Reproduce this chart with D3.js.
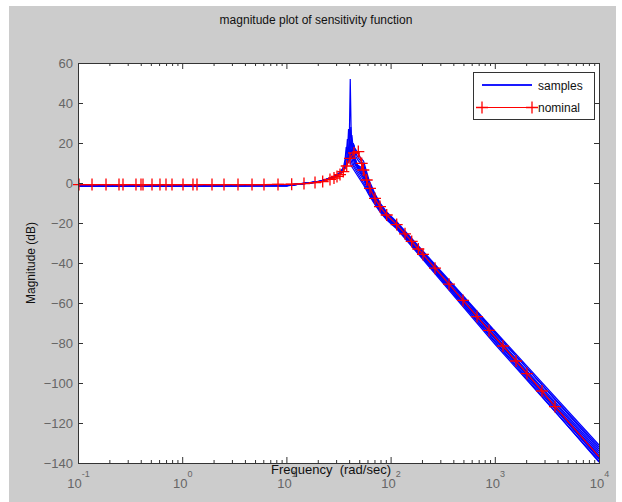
<!DOCTYPE html>
<html>
<head>
<meta charset="utf-8">
<script src="https://cdn.jsdelivr.net/npm/d3@7"></script>
<style>
    body { margin: 0; background: #fff; }
    svg text { font-family: "Liberation Sans", Arial, sans-serif; }
</style>
</head>
<body>
<div id="chart"></div>
<script>
// nominal curve (rad/sec, dB) - one marker per point
const nomFreq = [0.1022, 0.1363, 0.1857, 0.2474, 0.2703, 0.3601, 0.4023, 0.4205, 0.5131, 0.612,
    0.6991, 0.7982, 1.018, 1.269, 1.387, 1.932, 2.519, 3.432, 4.677, 6.095, 8.308, 11.24, 14.75,
    18.82, 22.3, 26.2, 28.63, 30.59, 32.69, 35.17, 37.91, 40.78, 44.55, 48.99, 52.8, 54.7, 58.97,
    63.42, 70.84, 79.13, 91.75, 114.4, 137.5, 159.4, 184.5, 204.6, 266.8, 363.6, 495.6, 675.3,
    879.9, 1198, 1597, 2036, 2836, 3782, 10000];
const nomMag = [-0.8, -0.8, -0.8, -0.8, -0.8, -0.8, -0.8, -0.8, -0.8, -0.8,
    -0.8, -0.8, -0.8, -0.8, -0.8, -0.8, -0.8, -0.8, -0.8, -0.8, -0.7, -0.6, -0.3,
    0.2, 0.7, 1.8, 2.5, 3.3, 4.2, 5.7, 8.5, 12.3, 15, 15.7, 9.8, 6.5, 1.5,
    -2.7, -7.7, -11.8, -16, -20.8, -25.4, -29.2, -33, -35.7, -42.6, -50.6, -58.7, -66.8,
    -73.7, -81.5, -89, -95.3, -104, -111.8, -136.8];

// sampled (perturbed) curves
const sampleFreqs = [
    [0.1, 10, 20.5, 28.7, 32.8, 36.1, 38.5, 40, 41, 42, 43.5, 46, 55, 62, 71, 80, 92, 115, 1000, 10000],
    [0.1, 10, 19.8, 27.7, 31.6, 34.8, 37.1, 38.5, 39.5, 40.5, 41.9, 44.2, 55, 62, 71, 80, 92, 115, 1000, 10000],
    [0.1, 10, 21.3, 29.8, 34, 37.4, 40, 41.4, 42.5, 43.6, 45, 47.6, 55, 62, 71, 80, 92, 115, 1000, 10000],
    [0.1, 10, 22, 30.8, 35.2, 38.7, 41.4, 42.9, 44, 45.1, 46.6, 49.3, 55, 62, 71, 80, 92, 115, 1000, 10000],
    [0.1, 10, 18.8, 26.3, 30, 33, 35.3, 36.6, 37.5, 38.4, 39.8, 42, 55, 62, 71, 80, 92, 115, 1000, 10000],
    [0.1, 10, 23, 32.2, 36.8, 40.5, 43.2, 44.9, 46, 47.2, 48.8, 51.5, 55, 62, 71, 80, 92, 115, 1000, 10000],
    [0.1, 10, 20.8, 29, 33.2, 36.5, 39, 40.5, 41.5, 42.5, 44, 46.5, 55, 62, 71, 80, 92, 115, 1000, 10000],
    [0.1, 10, 21.5, 30.1, 34.4, 37.8, 40.4, 41.9, 43, 44.1, 45.6, 48.2, 55, 62, 71, 80, 92, 115, 1000, 10000],
    [0.1, 10, 19.3, 27, 30.8, 33.9, 36.2, 37.5, 38.5, 39.5, 40.8, 43.1, 55, 62, 71, 80, 92, 115, 1000, 10000],
    [0.1, 10, 20.3, 28.4, 32.4, 35.6, 38.1, 39.5, 40.5, 41.5, 42.9, 45.4, 55, 62, 71, 80, 92, 115, 1000, 10000],
    [0.1, 10, 22.3, 31.2, 35.6, 39.2, 41.8, 43.4, 44.5, 45.6, 47.2, 49.8, 55, 62, 71, 80, 92, 115, 1000, 10000],
    [0.1, 10, 21, 29.4, 33.6, 37, 39.5, 41, 42, 43, 44.5, 47, 55, 62, 71, 80, 92, 115, 1000, 10000]
];
const sampleMags = [
    [-1.5, -1.3, 0.6, 3.0, 5.0, 8, 11, 16, 52, 20, 14, 9.5, 3, -3.5, -9, -13, -17, -21.6, -77.5, -136],
    [-1.5, -1.3, 0.5, 2.8, 4.6, 7, 10, 15, 27, 19, 13.5, 9, 1.5, -4.5, -10, -13.8, -17.6, -22.2, -79, -138],
    [-1.4, -1.2, 0.7, 3.3, 5.5, 9, 12.5, 16, 24, 18, 13, 9, 6, -1.8, -7.9, -12.1, -16.1, -20.8, -76, -134],
    [-1.5, -1.2, 0.8, 3.8, 6.2, 10, 13.5, 16.5, 20, 17, 13, 11, 8.5, -0.3, -6.8, -11.3, -15.4, -20.2, -75, -132],
    [-1.6, -1.4, 0.4, 2.2, 3.8, 5.5, 8, 12, 18, 16, 12.5, 8.5, -1, -6, -11, -14.8, -18.5, -23, -80.5, -139],
    [-1.4, -1.1, 1.0, 4.3, 7.6, 12, 14.8, 16.2, 17, 16, 14.5, 12.5, 11, 1.5, -5.5, -10.3, -14.6, -19.5, -74, -131],
    [-1.5, -1.3, 0.6, 3.1, 5.2, 8.2, 12, 17, 28, 20, 14, 9.3, 4, -2.8, -8.6, -12.7, -16.7, -21.3, -77.5, -137],
    [-1.5, -1.2, 0.7, 3.4, 5.6, 9, 12.5, 14.2, 15, 14.5, 12.5, 9, 7, -1.2, -7.5, -11.8, -15.8, -20.6, -76.5, -135],
    [-1.6, -1.4, 0.5, 2.5, 4.2, 6, 9, 14, 22, 17, 13, 9, 0, -5.3, -10.5, -14.3, -18, -22.6, -79.5, -139.5],
    [-1.5, -1.3, 0.6, 2.9, 4.8, 7.5, 11, 15.5, 23, 18.5, 13.5, 9.2, 2.5, -3.8, -9.3, -13.4, -17.3, -21.9, -78, -137.5],
    [-1.5, -1.2, 0.9, 4.0, 6.5, 10.8, 13.6, 16.3, 19, 16.5, 14, 12, 9.5, 0.5, -6.2, -10.8, -15, -19.9, -74.5, -133],
    [-1.4, -1.2, 0.7, 3.2, 5.3, 8.5, 12, 14.6, 16, 15.5, 12.8, 9.1, 5, -2.3, -8.2, -12.4, -16.4, -21.1, -77, -136.5]
];

const xMajor = [0.1, 1, 10, 100, 1000, 10000];
const xExp = ["-1", "0", "1", "2", "3", "4"];
const yTicks = [60, 40, 20, 0, -20, -40, -60, -80, -100, -120, -140];
const legendLabels = ["samples", "nominal"];

const W = 622, H = 502;
const margin = { top: 63, right: 23, bottom: 39, left: 78 };
const width = W - margin.left - margin.right;
const height = H - margin.top - margin.bottom;

const svg = d3.select("#chart").append("svg")
    .attr("width", W)
    .attr("height", H);

// figure background (white strip at left/top like the screenshot)
svg.append("rect").attr("width", W).attr("height", H).attr("fill", "#fff");
svg.append("rect")
    .attr("x", 9).attr("y", 6)
    .attr("width", 607).attr("height", H - 6)
    .attr("fill", "#cccccc");

const g = svg.append("g")
    .attr("transform", `translate(${margin.left},${margin.top})`);

g.append("rect")
    .attr("width", width).attr("height", height)
    .attr("fill", "#fff");

const x = d3.scaleLog().domain([0.1, 10000]).range([0, width]);
const y = d3.scaleLinear().domain([-140, 60]).range([height, 0]);

g.append("clipPath").attr("id", "plot-clip")
    .append("rect").attr("width", width).attr("height", height);

const line = d3.line()
    .x(d => x(d[0]))
    .y(d => y(d[1]));

const curves = g.append("g").attr("clip-path", "url(#plot-clip)");

curves.selectAll(".sample")
    .data(sampleFreqs.map((f, i) => d3.zip(f, sampleMags[i])))
    .enter()
    .append("path")
    .attr("class", "sample")
    .attr("d", line)
    .attr("fill", "none")
    .attr("stroke", "#0000ff")
    .attr("stroke-width", 1.2);

const nomData = d3.zip(nomFreq, nomMag);

curves.append("path")
    .datum(nomData)
    .attr("d", line)
    .attr("fill", "none")
    .attr("stroke", "#ff0000")
    .attr("stroke-width", 1.2);

// + markers (none on the last point, the screenshot shows none there)
const plus = "M-6,0H6M0,-6V6";
g.append("g").selectAll("path")
    .data(nomData.slice(0, -1))
    .enter()
    .append("path")
    .attr("d", plus)
    .attr("transform", d => `translate(${x(d[0])},${y(d[1])})`)
    .attr("stroke", "#ff0000")
    .attr("stroke-width", 1.3)
    .attr("fill", "none");

// --- axes ---
const xMinor = [];
xMajor.slice(0, -1).forEach(m => d3.range(2, 10).forEach(k => xMinor.push(m * k)));

const tickColor = "#333";

const bottomAxis = g.append("g")
    .attr("transform", `translate(0,${height})`)
    .call(d3.axisBottom(x).tickValues(xMajor).tickSizeInner(-6).tickSizeOuter(0).tickFormat(() => ""));

bottomAxis.selectAll(".tick text").each(function(d, i) {
    const t = d3.select(this);
    t.attr("y", 25).attr("dy", null)
        .attr("font-size", "13px")
        .attr("fill", "#666");
    t.append("tspan").text("10");
    t.append("tspan").attr("dy", -11).attr("font-size", "9px").text(xExp[i]);
});

g.append("g")
    .attr("transform", `translate(0,${height})`)
    .call(d3.axisBottom(x).tickValues(xMinor).tickSizeInner(-3).tickSizeOuter(0).tickFormat(""));

g.append("g")
    .call(d3.axisTop(x).tickValues(xMajor).tickSizeInner(-6).tickSizeOuter(0).tickFormat(""));
g.append("g")
    .call(d3.axisTop(x).tickValues(xMinor).tickSizeInner(-3).tickSizeOuter(0).tickFormat(""));

const leftAxis = g.append("g")
    .call(d3.axisLeft(y).tickValues(yTicks).tickSizeInner(-5).tickSizeOuter(0).tickPadding(5));
leftAxis.selectAll("text")
    .attr("font-size", "13px")
    .attr("fill", "#666");

g.append("g")
    .attr("transform", `translate(${width},0)`)
    .call(d3.axisRight(y).tickValues(yTicks).tickSizeInner(-5).tickSizeOuter(0).tickFormat(""));

g.selectAll(".domain").remove();
g.selectAll(".tick line").attr("stroke", tickColor);

g.append("rect")
    .attr("x", 0.5).attr("y", 0.5)
    .attr("width", width).attr("height", height)
    .attr("fill", "none")
    .attr("stroke", tickColor);

// --- titles ---
svg.append("text")
    .attr("x", 316).attr("y", 24)
    .attr("text-anchor", "middle")
    .attr("font-size", "12px")
    .attr("fill", "#111")
    .text("magnitude plot of sensitivity function");

svg.append("text")
    .attr("x", 331).attr("y", 474)
    .attr("text-anchor", "middle")
    .attr("font-size", "13px")
    .attr("fill", "#111")
    .style("white-space", "pre")
    .text("Frequency  (rad/sec)");

svg.append("text")
    .attr("transform", "translate(35,263) rotate(-90)")
    .attr("text-anchor", "middle")
    .attr("font-size", "12px")
    .attr("fill", "#111")
    .text("Magnitude (dB)");

// --- legend ---
const legend = svg.append("g").attr("transform", "translate(473,72)");
legend.append("rect")
    .attr("x", 0.5).attr("y", 0.5)
    .attr("width", 121).attr("height", 47)
    .attr("fill", "#fff")
    .attr("stroke", tickColor);

legend.append("line")
    .attr("x1", 9).attr("x2", 59).attr("y1", 13).attr("y2", 13)
    .attr("stroke", "#1a1aff")
    .attr("stroke-width", 2);
legend.append("line")
    .attr("x1", 9).attr("x2", 59).attr("y1", 35.5).attr("y2", 35.5)
    .attr("stroke", "#ff0000")
    .attr("stroke-width", 1.2);
[9, 59].forEach(px => {
    legend.append("path")
        .attr("d", plus)
        .attr("transform", `translate(${px},35.5)`)
        .attr("stroke", "#ff0000")
        .attr("stroke-width", 1.3)
        .attr("fill", "none");
});

legend.selectAll(".lbl")
    .data(legendLabels)
    .enter()
    .append("text")
    .attr("class", "lbl")
    .attr("x", 65)
    .attr("y", (d, i) => 18 + i * 22)
    .attr("font-size", "12px")
    .attr("fill", "#111")
    .text(d => d);
</script>
</body>
</html>
